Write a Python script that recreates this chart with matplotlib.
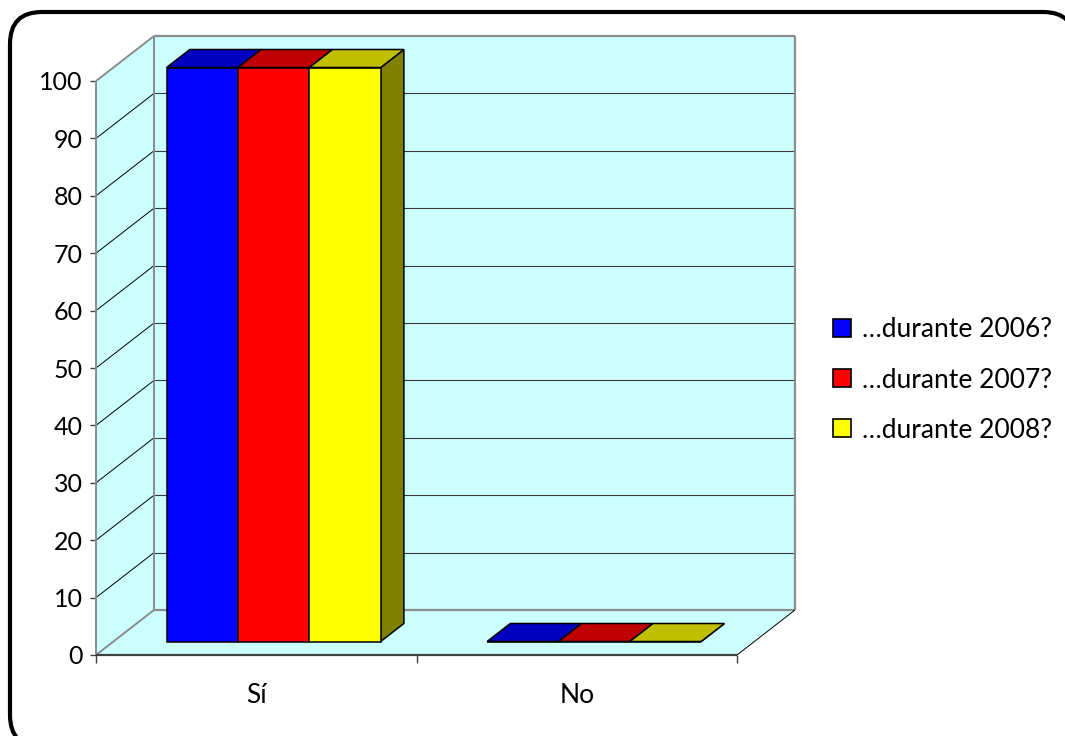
import numpy as np
import matplotlib
matplotlib.use("Agg")
import matplotlib.pyplot as plt
from matplotlib.patches import Polygon, FancyBboxPatch, Patch

# ---- data ----
categories = ["Sí", "No"]
series_labels = ["…durante 2006?", "…durante 2007?", "…durante 2008?"]
values_2006 = [100, 0]
values_2007 = [100, 0]
values_2008 = [100, 0]
y_ticks = [0, 10, 20, 30, 40, 50, 60, 70, 80, 90, 100]

# ---- style ----
front_colors = ["#0000ff", "#ff0000", "#ffff00"]
top_colors = ["#0000c0", "#c00000", "#c0c000"]
side_colors = ["#000080", "#800000", "#808000"]
wall_color = "#ccffff"
DEPTH_PX = np.array([58.0, 45.0])   # perspective depth offset in pixels
BAR_D0, BAR_D1 = 0.3, 0.7           # bar depth span (fraction of floor depth)
GROUP_W = 0.668

plt.rcParams['font.family'] = ['Lato', 'DejaVu Sans']

W, H = 1065, 736
fig = plt.figure(figsize=(W / 100, H / 100), dpi=100)

# background frame (pixel coordinates, y measured upward)
bg = fig.add_axes([0, 0, 1, 1], zorder=0)
bg.set_xlim(0, W)
bg.set_ylim(0, H)
bg.axis('off')
bg.add_patch(FancyBboxPatch((10, H - 747), 1065, 735,
                            boxstyle="round,pad=0,rounding_size=32",
                            fc='white', ec='black', lw=3, clip_on=False))

ax = fig.add_axes([96 / W, (H - 655) / H, (737 - 96) / W, (655 - 81) / H], zorder=1)
ax.set_xlim(-0.5, 1.5)
ax.set_ylim(0, 100)
ax.patch.set_visible(False)
for s in ax.spines.values():
    s.set_visible(False)


def P(x, y, d):
    disp = ax.transData.transform((x, y)) + d * DEPTH_PX
    return ax.transData.inverted().transform(disp)


def poly(pts, fc, ec='none', lw=0, z=1):
    ax.add_patch(Polygon(np.array(pts), closed=True, fc=fc, ec=ec, lw=lw,
                         clip_on=False, zorder=z, joinstyle='miter'))


def line(p, q, color, lw, z=2):
    ax.plot([p[0], q[0]], [p[1], q[1]], color=color, lw=lw, clip_on=False,
            zorder=z, solid_capstyle='butt')


x0, x1 = -0.5, len(categories) - 0.5
ymax = y_ticks[-1]

# walls and floor
poly([P(x0, 0, 0), P(x0, ymax, 0), P(x0, ymax, 1), P(x0, 0, 1)], wall_color)
poly([P(x0, 0, 1), P(x1, 0, 1), P(x1, ymax, 1), P(x0, ymax, 1)], wall_color)
poly([P(x0, 0, 0), P(x1, 0, 0), P(x1, 0, 1), P(x0, 0, 1)], wall_color)

# gridlines
for v in y_ticks[1:-1]:
    line(P(x0, v, 1), P(x1, v, 1), '#3a3a3a', 0.8)
    line(P(x0, v, 0), P(x0, v, 1), 'black', 0.7)

gray = '#8c8c8c'
line(P(x0, ymax, 0), P(x0, ymax, 1), gray, 1.4)
line(P(x0, ymax, 1), P(x1, ymax, 1), gray, 1.6)
line(P(x1, ymax, 1), P(x1, 0, 1), gray, 1.6)
line(P(x0, 0, 1), P(x0, ymax, 1), gray, 1.4)
line(P(x0, 0, 1), P(x1, 0, 1), gray, 1.6)
line(P(x0, 0, 0), P(x0, 0, 1), gray, 1.4)
line(P(x0, 0, 0), P(x0, ymax, 0), gray, 1.4)
line(P(x1, 0, 0), P(x1, 0, 1), 'black', 0.7)
line(P(x0, 0, 0), P(x1, 0, 0), '#404040', 1.6, z=2.5)

# bars
series = [values_2006, values_2007, values_2008]
n = len(series)
bw = GROUP_W / n
z = 3
for j in range(len(categories)):
    for i, vals in enumerate(series):
        v = vals[j]
        xl = j - GROUP_W / 2 + i * bw
        xr = xl + bw
        ekw = dict(ec='black', lw=1.1)
        poly([P(xr, 0, BAR_D0), P(xr, 0, BAR_D1), P(xr, v, BAR_D1), P(xr, v, BAR_D0)],
             side_colors[i], z=z, **ekw)
        poly([P(xl, 0, BAR_D0), P(xr, 0, BAR_D0), P(xr, v, BAR_D0), P(xl, v, BAR_D0)],
             front_colors[i], z=z + 0.1, **ekw)
        poly([P(xl, v, BAR_D0), P(xr, v, BAR_D0), P(xr, v, BAR_D1), P(xl, v, BAR_D1)],
             top_colors[i], z=z + 0.2, **ekw)
        z += 1

# axes ticks
ax.set_yticks(y_ticks)
ax.set_yticklabels([str(t) for t in y_ticks])
ax.tick_params(axis='y', direction='out', length=4.5, width=1, color='#404040',
               pad=5, labelsize=18)
ax.set_xticks([x0 + k for k in range(len(categories) + 1)])
ax.set_xticklabels([''] * (len(categories) + 1))
ax.set_xticks(range(len(categories)), minor=True)
ax.set_xticklabels(categories, minor=True)
ax.tick_params(axis='x', which='major', direction='out', length=6, width=1,
               color='#404040')
ax.tick_params(axis='x', which='minor', length=0, pad=20, labelsize=19)

# legend
handles = [Patch(fc=c, ec='black', lw=1.2) for c in front_colors]
fig.legend(handles, series_labels, loc='center left',
           bbox_to_anchor=(833 / W, 1 - 380 / H), frameon=False, fontsize=19,
           handlelength=0.68, handleheight=0.68, handletextpad=0.42,
           labelspacing=0.95, borderpad=0, borderaxespad=0)

fig.savefig("out.png", dpi=100)
